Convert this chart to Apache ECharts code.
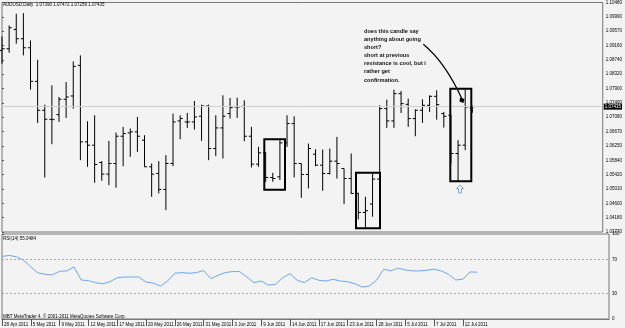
<!DOCTYPE html>
<html>
<head>
<meta charset="utf-8">
<script src="https://cdn.jsdelivr.net/npm/echarts@6/dist/echarts.min.js"></script>
<style>
html, body { margin: 0; padding: 0; background: #f3f3f3; }
#main { width: 625px; height: 328px; }
</style>
</head>
<body>
<div id="main"></div>
<script>
// AUDUSD daily bars (one entry per bar, left to right)
var opens  = [1.09079, 1.09128, 1.09692, 1.09420, 1.09157, 1.08175, 1.07329, 1.07066, 1.07202, 1.07650,
              1.07747, 1.08642, 1.06405, 1.06308, 1.05802, 1.05462, 1.05773, 1.06570, 1.06667, 1.06697,
              1.06454, 1.05676, 1.05481, 1.05014, 1.05773, 1.07018, 1.06988, 1.06988, 1.07154, 1.07455,
              1.06210, 1.06813, 1.07232, 1.07426, 1.07445, 1.06570, 1.05753, 1.06084, 1.05364, 1.05384,
              1.06376, 1.06940, 1.05773, 1.05452, 1.06045, 1.05724, 1.05481, 1.05841, 1.05627, 1.05335,
              1.04898, 1.04343, 1.04586, 1.05316, 1.07377, 1.07018, 1.07815, 1.07504, 1.07086, 1.07329,
              1.07475, 1.07737, 1.07232, 1.07183, 1.06065, 1.06308, 1.07390];
var highs  = [1.09488, 1.09809, 1.10149, 1.10168, 1.09371, 1.08807, 1.07494, 1.08058, 1.07718, 1.08155,
              1.08758, 1.08933, 1.07008, 1.07183, 1.05841, 1.06434, 1.06677, 1.06843, 1.06794, 1.07134,
              1.06599, 1.05773, 1.05841, 1.06016, 1.07232, 1.07183, 1.07251, 1.07601, 1.07494, 1.07494,
              1.07183, 1.07766, 1.07689, 1.07698, 1.07621, 1.06843, 1.06259, 1.06113, 1.05500, 1.06454,
              1.07183, 1.07154, 1.05773, 1.06356, 1.06191, 1.06181, 1.06210, 1.06551, 1.05627, 1.06065,
              1.04917, 1.04800, 1.05481, 1.07475, 1.07640, 1.07932, 1.07893, 1.07669, 1.07358, 1.07650,
              1.07766, 1.07912, 1.07280, 1.07202, 1.06454, 1.07932, 1.07472];
var lows   = [1.08690, 1.09011, 1.09274, 1.08933, 1.07932, 1.06959, 1.05364, 1.06337, 1.06988, 1.07105,
              1.07377, 1.05870, 1.05676, 1.05209, 1.05267, 1.05141, 1.05063, 1.05695, 1.05967, 1.06113,
              1.05676, 1.04800, 1.04898, 1.04411, 1.05695, 1.06483, 1.06813, 1.06765, 1.06434, 1.05870,
              1.05987, 1.05919, 1.07086, 1.07105, 1.06424, 1.05656, 1.05676, 1.05238, 1.05238, 1.05287,
              1.06259, 1.05364, 1.04771, 1.05043, 1.05695, 1.04975, 1.05452, 1.05335, 1.04586, 1.04878,
              1.04139, 1.03876, 1.04217, 1.05287, 1.06813, 1.06813, 1.07251, 1.06843, 1.06570, 1.06959,
              1.07280, 1.07056, 1.06823, 1.05773, 1.05238, 1.06162, 1.07256];
var closes = [1.09128, 1.09741, 1.09420, 1.09157, 1.08175, 1.07329, 1.07066, 1.07056, 1.07650, 1.07718,
              1.08612, 1.06405, 1.06308, 1.05744, 1.05462, 1.05773, 1.06570, 1.06648, 1.06697, 1.06570,
              1.05676, 1.05462, 1.05014, 1.05773, 1.06988, 1.07086, 1.06988, 1.07134, 1.07455, 1.06210,
              1.06813, 1.07154, 1.07407, 1.07426, 1.06570, 1.05753, 1.06084, 1.05364, 1.05335, 1.06376,
              1.06940, 1.05773, 1.05452, 1.06210, 1.05724, 1.05481, 1.05841, 1.05773, 1.05335, 1.04898,
              1.04343, 1.04392, 1.05316, 1.07377, 1.07018, 1.07815, 1.07523, 1.07086, 1.07329, 1.07475,
              1.07737, 1.07494, 1.07154, 1.06065, 1.06308, 1.07426, 1.07435];

// RSI(14), one value per bar
var rsiValues = [73.6, 74.8, 73.2, 69.2, 61.3, 54.2, 52.6, 51.8, 56.2, 56.6,
                 61.3, 45.9, 45.1, 42.7, 41.5, 43.9, 48.6, 49.4, 49.4, 49.4,
                 43.5, 42.3, 38.7, 44.7, 53.8, 54.6, 53.8, 54.6, 57.0, 47.5,
                 51.4, 54.6, 55.8, 55.8, 49.4, 42.7, 44.7, 39.9, 40.7, 48.6,
                 53.4, 45.5, 42.7, 48.6, 45.5, 44.7, 46.7, 44.7, 43.9, 41.5,
                 37.6, 38.7, 45.5, 58.6, 56.6, 59.8, 57.8, 56.6, 56.6, 57.4,
                 58.6, 56.6, 52.6, 45.9, 46.7, 55.4, 55.0484];

// date labels, one every 4 bars
var dateLabels = ['28 Apr 2011', '5 May 2011', '9 May 2011', '12 May 2011', '17 May 2011', '20 May 2011',
                  '26 May 2011', '31 May 2011', '3 Jun 2011', '9 Jun 2011', '14 Jun 2011', '17 Jun 2011',
                  '23 Jun 2011', '28 Jun 2011', '5 Jul 2011', '7 Jul 2011', '12 Jul 2011'];
// price scale labels, bottom to top
var priceLabels = ['1.03770', '1.04180', '1.04600', '1.05010', '1.05420', '1.05840', '1.06250', '1.06670',
                   '1.07080', '1.07490', '1.07900', '1.08320', '1.08740', '1.09160', '1.09570', '1.09990', '1.10480'];
var rsiLevels = [30, 70];
var rsiLabels = [0, 30, 70, 100];

var priceMin = 1.0377, priceMax = 1.1048;
var priceStep = (priceMax - priceMin) / (priceLabels.length - 1);
var barsMax = 84.3;
var font = '"Liberation Sans", Arial, sans-serif';
var last = opens.length - 1;

var bars = opens.map(function (o, i) { return [i, o, highs[i], lows[i], closes[i]]; });
var rsiData = rsiValues.map(function (v, i) { return [i, v]; });
var dateTicks = dateLabels.map(function (d, k) { return k * 4; });

function renderBar(params, api) {
    var i = api.value(0);
    var o = api.coord([i, api.value(1)]);
    var h = api.coord([i, api.value(2)]);
    var l = api.coord([i, api.value(3)]);
    var c = api.coord([i, api.value(4)]);
    var x = o[0];
    var st = { stroke: '#000', lineWidth: 1 };
    return {
        type: 'group',
        children: [
            { type: 'line', shape: { x1: x, y1: h[1], x2: x, y2: l[1] }, style: st },
            { type: 'line', shape: { x1: x - 2.6, y1: o[1], x2: x, y2: o[1] }, style: st },
            { type: 'line', shape: { x1: x, y1: c[1], x2: x + 2.6, y2: c[1] }, style: st }
        ]
    };
}

var myChart = echarts.init(document.getElementById('main'));

var option = {
    animation: false,
    backgroundColor: '#f3f3f3',
    textStyle: { fontFamily: font },
    grid: [
        { left: 2, top: 2, width: 607, height: 230, show: true, borderColor: '#777', borderWidth: 1, backgroundColor: 'transparent' },
        { left: 2, top: 234, width: 607, height: 85, show: true, borderColor: '#777', borderWidth: 1, backgroundColor: 'transparent' }
    ],
    xAxis: [
        { type: 'value', gridIndex: 0, min: 0, max: barsMax, show: false },
        {
            type: 'value', gridIndex: 1, min: 0, max: barsMax,
            axisLine: { show: true, lineStyle: { color: '#777' } },
            splitLine: { show: false },
            axisTick: { show: true, customValues: dateTicks, length: 7, lineStyle: { color: '#555' } },
            axisLabel: {
                customValues: dateTicks, align: 'left', margin: 3, padding: [0, 0, 0, 2],
                fontSize: 4.5, color: '#000', fontFamily: font,
                formatter: function (v) { return dateLabels[Math.round(v / 4)] || ''; }
            }
        }
    ],
    yAxis: [
        {
            type: 'value', gridIndex: 0, position: 'right',
            min: priceMin, max: priceMax, interval: priceStep,
            axisLine: { show: false },
            splitLine: { show: false },
            axisTick: { show: true, length: 2, lineStyle: { color: '#555' } },
            axisLabel: {
                margin: 3, fontSize: 4.5, color: '#000', fontFamily: font,
                formatter: function (v) { return priceLabels[Math.round((v - priceMin) / priceStep)] || ''; }
            }
        },
        {
            type: 'value', gridIndex: 1, position: 'right', min: 0, max: 100,
            axisLine: { show: false },
            splitLine: { show: false },
            axisTick: { show: true, customValues: rsiLabels, length: 2, lineStyle: { color: '#555' } },
            axisLabel: { customValues: rsiLabels, margin: 3, fontSize: 4.5, color: '#000', fontFamily: font }
        }
    ],
    series: [
        {
            type: 'custom', name: 'AUDUSD', xAxisIndex: 0, yAxisIndex: 0,
            renderItem: renderBar, data: bars, encode: { x: 0, y: [1, 2, 3, 4] },
            z: 3,
            markLine: {
                silent: true, symbol: 'none', precision: 5,
                lineStyle: { color: '#cfcfcf', width: 1, type: 'solid' },
                label: {
                    show: true, position: 'end', distance: 1,
                    backgroundColor: '#000', color: '#fff', padding: [1, 1, 0, 1],
                    fontSize: 4.5, fontFamily: font,
                    formatter: function () { return closes[last].toFixed(5); }
                },
                data: [{ yAxis: closes[last] }]
            }
        },
        {
            type: 'line', name: 'RSI(14)', xAxisIndex: 1, yAxisIndex: 1,
            data: rsiData, showSymbol: false, symbol: 'none',
            lineStyle: { color: '#6aa8ef', width: 1 },
            markLine: {
                silent: true, symbol: 'none',
                lineStyle: { color: '#aaa', width: 1, type: [2, 2] },
                label: { show: false },
                data: rsiLevels.map(function (v) { return { yAxis: v }; })
            }
        }
    ],
    graphic: [
        {
            type: 'text', x: 3, y: 2.5,
            style: {
                text: 'AUDUSD,Daily  ' + [opens[last], highs[last], lows[last], closes[last]].map(function (v) { return v.toFixed(5); }).join(' '),
                fontSize: 4.5, fontFamily: font, fill: '#000'
            }
        },
        {
            type: 'text', x: 3, y: 236,
            style: { text: 'RSI(14) ' + rsiValues[last].toFixed(4), fontSize: 4.5, fontFamily: font, fill: '#000' }
        },
        {
            type: 'text', x: 3, y: 314,
            style: { text: 'MBT MetaTrader 4, \u00a9 2001-2011 MetaQuotes Software Corp.', fontSize: 4.5, fontFamily: font, fill: '#000' }
        },
        {
            type: 'text', x: 364, y: 27,
            style: {
                text: 'does this candle say\nanything about going\nshort?\nshort at previous\nresistance is cool, but i\nrather get\nconfirmation.',
                fontSize: 5.6, fontWeight: 'bold', lineHeight: 8.15, fontFamily: font, fill: '#111'
            }
        },
        // boxes around the bars discussed
        { type: 'rect', shape: { x: 264.3, y: 139.3, width: 20.7, height: 50.4 }, style: { fill: 'none', stroke: '#000', lineWidth: 2 }, z: 10 },
        { type: 'rect', shape: { x: 356, y: 172.7, width: 24, height: 55.6 }, style: { fill: 'none', stroke: '#000', lineWidth: 2 }, z: 10 },
        { type: 'rect', shape: { x: 450.3, y: 88.7, width: 21, height: 92.6 }, style: { fill: 'none', stroke: '#000', lineWidth: 2 }, z: 10 },
        // pointer from the note to the candle
        { type: 'bezierCurve', shape: { x1: 423.3, y1: 44.3, x2: 462, y2: 99, cpx1: 445, cpy1: 62 }, style: { fill: 'none', stroke: '#000', lineWidth: 1.2 }, z: 10 },
        { type: 'polygon', shape: { points: [[460, 97.5], [464.5, 99], [463.5, 103], [459.5, 101.5]] }, style: { fill: '#000' }, z: 10 },
        // hollow up arrow below the last box
        {
            type: 'polygon',
            shape: { points: [[460, 185], [463.5, 188.5], [461.5, 188.5], [461.5, 193], [458.5, 193], [458.5, 188.5], [456.5, 188.5]] },
            style: { fill: 'none', stroke: '#7fa7e6', lineWidth: 1 }, z: 10
        }
    ]
};
myChart.setOption(option);
</script>
</body>
</html>
